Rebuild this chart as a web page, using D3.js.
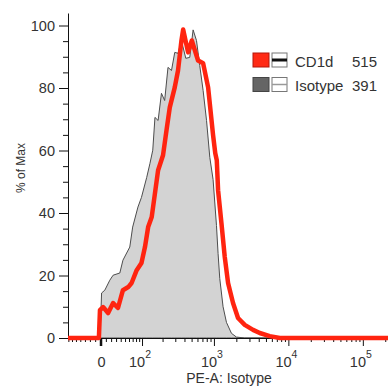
<!DOCTYPE html>
<html>
<head>
<meta charset="utf-8">
<script src="https://cdn.jsdelivr.net/npm/d3@7"></script>
<style>
  body { margin: 0; background: #fff; }
  text { font-family: "Liberation Sans", Arial, sans-serif; fill: #333; }
</style>
</head>
<body>
<div id="chart"></div>
<script>
// Isotype histogram (PE-A value, % of max)
const isoX = [-71, -7, -1, 2, 8, 17.5, 24, 38, 45, 54, 62, 70, 86, 98, 118, 132, 145, 156, 173, 193,
  214, 238, 266, 295, 327, 364, 417, 472, 524, 582, 644, 715, 795, 880, 974, 1082, 1137, 1198,
  1327, 1474, 1720, 2007, 2595, 262144];
const isoY = [0, 0, 0, 14.4, 15.3, 18.5, 20.1, 20.8, 24.9, 27.2, 29.1, 35.5, 41.9, 45.0, 51.4, 55.9,
  60.1, 70.6, 69.6, 78.3, 76.0, 86.6, 85.6, 91.4, 91.1, 95.2, 89.5, 89.8, 98.6, 95.2, 87.2, 79.2,
  69.6, 57.8, 50.7, 36, 27, 19, 10, 5, 1.5, 0.3, 0, 0];

// CD1d histogram
const cdX = [-71, -3, -1, 4.8, 14.2, 24, 34, 45, 58, 67, 82, 98, 111, 124, 140, 156, 173, 203, 227,
  252, 295, 327, 364, 384, 448, 503, 611, 715, 835, 974, 1042, 1092, 1137, 1262, 1398, 1549, 1806,
  2108, 2595, 3354, 4125, 5617, 7657, 262144];
const cdY = [0, 0, 8.9, 9.9, 8.0, 11.2, 9.6, 15.3, 16.3, 17.6, 21.7, 24.0, 29.1, 35.5, 38.7, 46.3,
  53.7, 58.5, 66.5, 73.8, 80.2, 85.6, 95.2, 98.7, 91.4, 95.2, 88.8, 87.9, 80.2, 64.9, 59.1, 56.9,
  47.3, 36.7, 25.9, 17.6, 11.2, 6.4, 4.2, 2.6, 1.6, 0.6, 0, 0];

const yMajor = [0, 20, 40, 60, 80, 100];
const xMajor = [0, 100, 1000, 10000, 100000];
const xMajorLabels = [["0", ""], ["10", "2"], ["10", "3"], ["10", "4"], ["10", "5"]];
const xMinor = [-70, -60, -50, -40, -30, -20, -10, 10, 20, 30, 40, 50, 60, 70, 80, 90,
  200, 300, 400, 500, 600, 700, 800, 900, 2000, 3000, 4000, 5000, 6000, 7000, 8000, 9000,
  20000, 30000, 40000, 50000, 60000, 70000, 80000, 90000, 200000];

const legendNames = ["CD1d", "Isotype"];
const legendValues = ["515", "391"];

const width = 388, height = 387;
const W = 60;
const tf = v => Math.asinh(v / W);

const svg = d3.select("#chart").append("svg")
  .attr("width", width)
  .attr("height", height);

const x = d3.scaleLinear().domain([tf(-71), tf(262144)]).range([68, 394]);
const fx = v => x(tf(v));
const y = d3.scaleLinear().domain([0, 104]).range([338, 13]);

// Isotype: filled grey
const iso = isoX.map((v, i) => [v, isoY[i]]);
svg.append("path")
  .datum(iso)
  .attr("fill", "#d3d3d3")
  .attr("stroke", "#4d4d4d")
  .attr("stroke-width", 1)
  .attr("d", d3.area().x(d => fx(d[0])).y0(y(0)).y1(d => y(d[1])));

// Axes
const yAxis = svg.append("g")
  .attr("transform", "translate(68,0)")
  .call(d3.axisLeft(y).tickValues(yMajor).tickSize(9).tickSizeOuter(0).tickPadding(4));
svg.append("g")
  .attr("transform", "translate(68,0)")
  .call(d3.axisLeft(y).tickValues(d3.range(5, 104, 5).filter(v => v % 20)).tickSize(5).tickFormat(""))
  .select(".domain").remove();
yAxis.selectAll("text").style("font-size", "14.5px").attr("fill", "#333");

const xAxis = svg.append("g")
  .attr("transform", "translate(0,338)")
  .call(d3.axisBottom(x).tickValues(xMajor.map(tf)).tickSize(8).tickSizeOuter(0).tickFormat(""));
svg.append("g")
  .attr("transform", "translate(0,338)")
  .call(d3.axisBottom(x).tickValues(xMinor.map(tf)).tickSize(4).tickFormat(""))
  .select(".domain").remove();
xAxis.selectAll(".tick line").filter(d => d === 0).attr("stroke-width", 2.5);
svg.selectAll(".domain, .tick line").attr("stroke", "#111");

const xl = svg.append("g").selectAll("text")
  .data(xMajorLabels)
  .join("text")
  .attr("x", (d, i) => fx(xMajor[i]) - (i ? 2 : -1))
  .attr("y", 367)
  .attr("text-anchor", "middle")
  .style("font-size", "14.5px");
xl.append("tspan").text(d => d[0]);
xl.append("tspan").attr("dy", -9).style("font-size", "10.5px").text(d => d[1]);

svg.append("text")
  .attr("x", 229).attr("y", 383)
  .attr("text-anchor", "middle")
  .style("font-size", "14px")
  .text("PE-A: Isotype");

svg.append("text")
  .attr("transform", "translate(25,168) rotate(-90)")
  .attr("text-anchor", "middle")
  .style("font-size", "12px")
  .text("% of Max");

// CD1d: red line
const cd = cdX.map((v, i) => [v, cdY[i]]);
svg.append("path")
  .datum(cd)
  .attr("fill", "none")
  .attr("stroke", "#ff2410")
  .attr("stroke-width", 4.5)
  .attr("stroke-linejoin", "round")
  .attr("d", d3.line().x(d => fx(d[0])).y(d => y(d[1])));

// Legend
const lg = svg.append("g").selectAll("g")
  .data(legendNames)
  .join("g")
  .attr("transform", (d, i) => `translate(253,${53 + i * 24.5})`);
lg.append("rect")
  .attr("width", 16).attr("height", 14)
  .attr("fill", (d, i) => i ? "#656565" : "#ff2a14")
  .attr("stroke", (d, i) => i ? "#444" : "#b3170b");
lg.append("rect")
  .attr("x", 19).attr("width", 15).attr("height", 14)
  .attr("fill", "#fff").attr("stroke", "#777");
lg.append("line")
  .attr("x1", 19).attr("x2", 34).attr("y1", 7).attr("y2", 7)
  .attr("stroke", (d, i) => i ? "#999" : "#111")
  .attr("stroke-width", (d, i) => i ? 1.5 : 3);
lg.append("text")
  .attr("x", 42).attr("y", 13.5)
  .style("font-size", "15px")
  .text(d => d);
lg.append("text")
  .attr("x", 124).attr("y", 13.5)
  .attr("text-anchor", "end")
  .style("font-size", "15px")
  .text((d, i) => legendValues[i]);
</script>
</body>
</html>
